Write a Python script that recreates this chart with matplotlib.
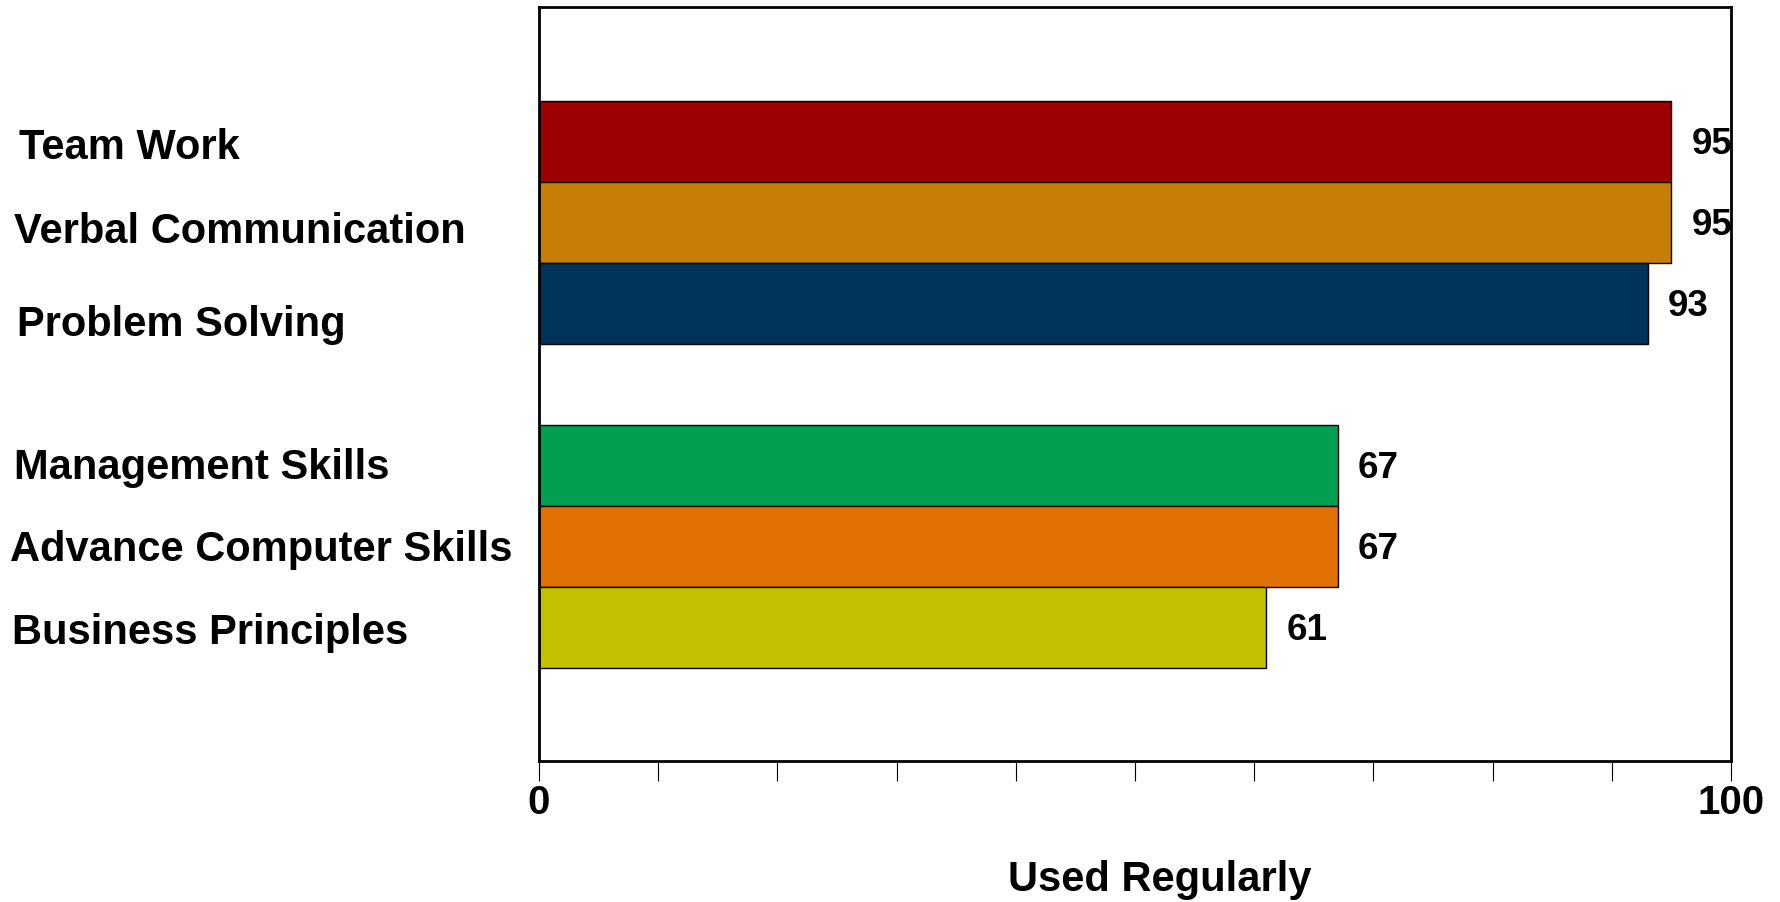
import matplotlib
matplotlib.use("Agg")
import matplotlib.pyplot as plt
from matplotlib.transforms import blended_transform_factory

# Survey data: share of respondents who use each skill regularly (%)
skills = ["Team Work", "Verbal Communication", "Problem Solving",
          "Management Skills", "Advance Computer Skills", "Business Principles"]
used_regularly = [95, 95, 93, 67, 67, 61]
bar_colors = ["#9C0000", "#C67E06", "#003359", "#00A050", "#E07000", "#C2C000"]
axis_label = "Used Regularly"

plt.rcParams["font.family"] = ["Liberation Sans", "DejaVu Sans"]
plt.rcParams["font.weight"] = "bold"

fig = plt.figure(figsize=(17.8, 9.02), dpi=100)
ax = fig.add_axes([0.3028, 0.1563, 0.6697, 0.8359])

# two groups of three bars, separated by one empty slot
positions = [7.65, 6.65, 5.65, 3.65, 2.65, 1.65]
label_nudge = [0.08, 0.12, 0.26, 0.03, 0.04, 0.07]
label_x = [0.0106, 0.0080, 0.0093, 0.0080, 0.0054, 0.0067]

ax.barh(positions, used_regularly, height=1.0, color=bar_colors,
        edgecolor="black", linewidth=1.0, zorder=2)

for y, v in zip(positions, used_regularly):
    ax.text(v + 1.7, y - 0.04, f"{v}", ha="left", va="center",
            fontsize=26.5, fontweight="bold", zorder=1)

trans = blended_transform_factory(fig.transFigure, ax.transData)
for y, name, dn, lx in zip(positions, skills, label_nudge, label_x):
    ax.text(lx, y - dn, name, transform=trans, ha="left", va="center",
            fontsize=30, fontweight="bold", clip_on=False)

ax.set_xlim(0, 100)
ax.set_ylim(0, 9.31)
ax.set_yticks([])
ax.set_xticks(range(0, 101, 10))
ax.set_xticklabels(["0"] + [""] * 9 + ["100"])
ax.tick_params(axis="x", direction="out", length=14.5, width=0.8, pad=2,
               labelsize=29)
for lbl in ax.get_xticklabels():
    lbl.set_fontweight("bold")

for s in ax.spines.values():
    s.set_linewidth(2.0)
    s.set_color("black")
    s.set_zorder(3)

ax.set_xlabel(axis_label, fontsize=30, fontweight="bold", va="center")
ax.xaxis.set_label_coords(0.521, -0.158)

fig.savefig("out.png", dpi=100, facecolor="white")
